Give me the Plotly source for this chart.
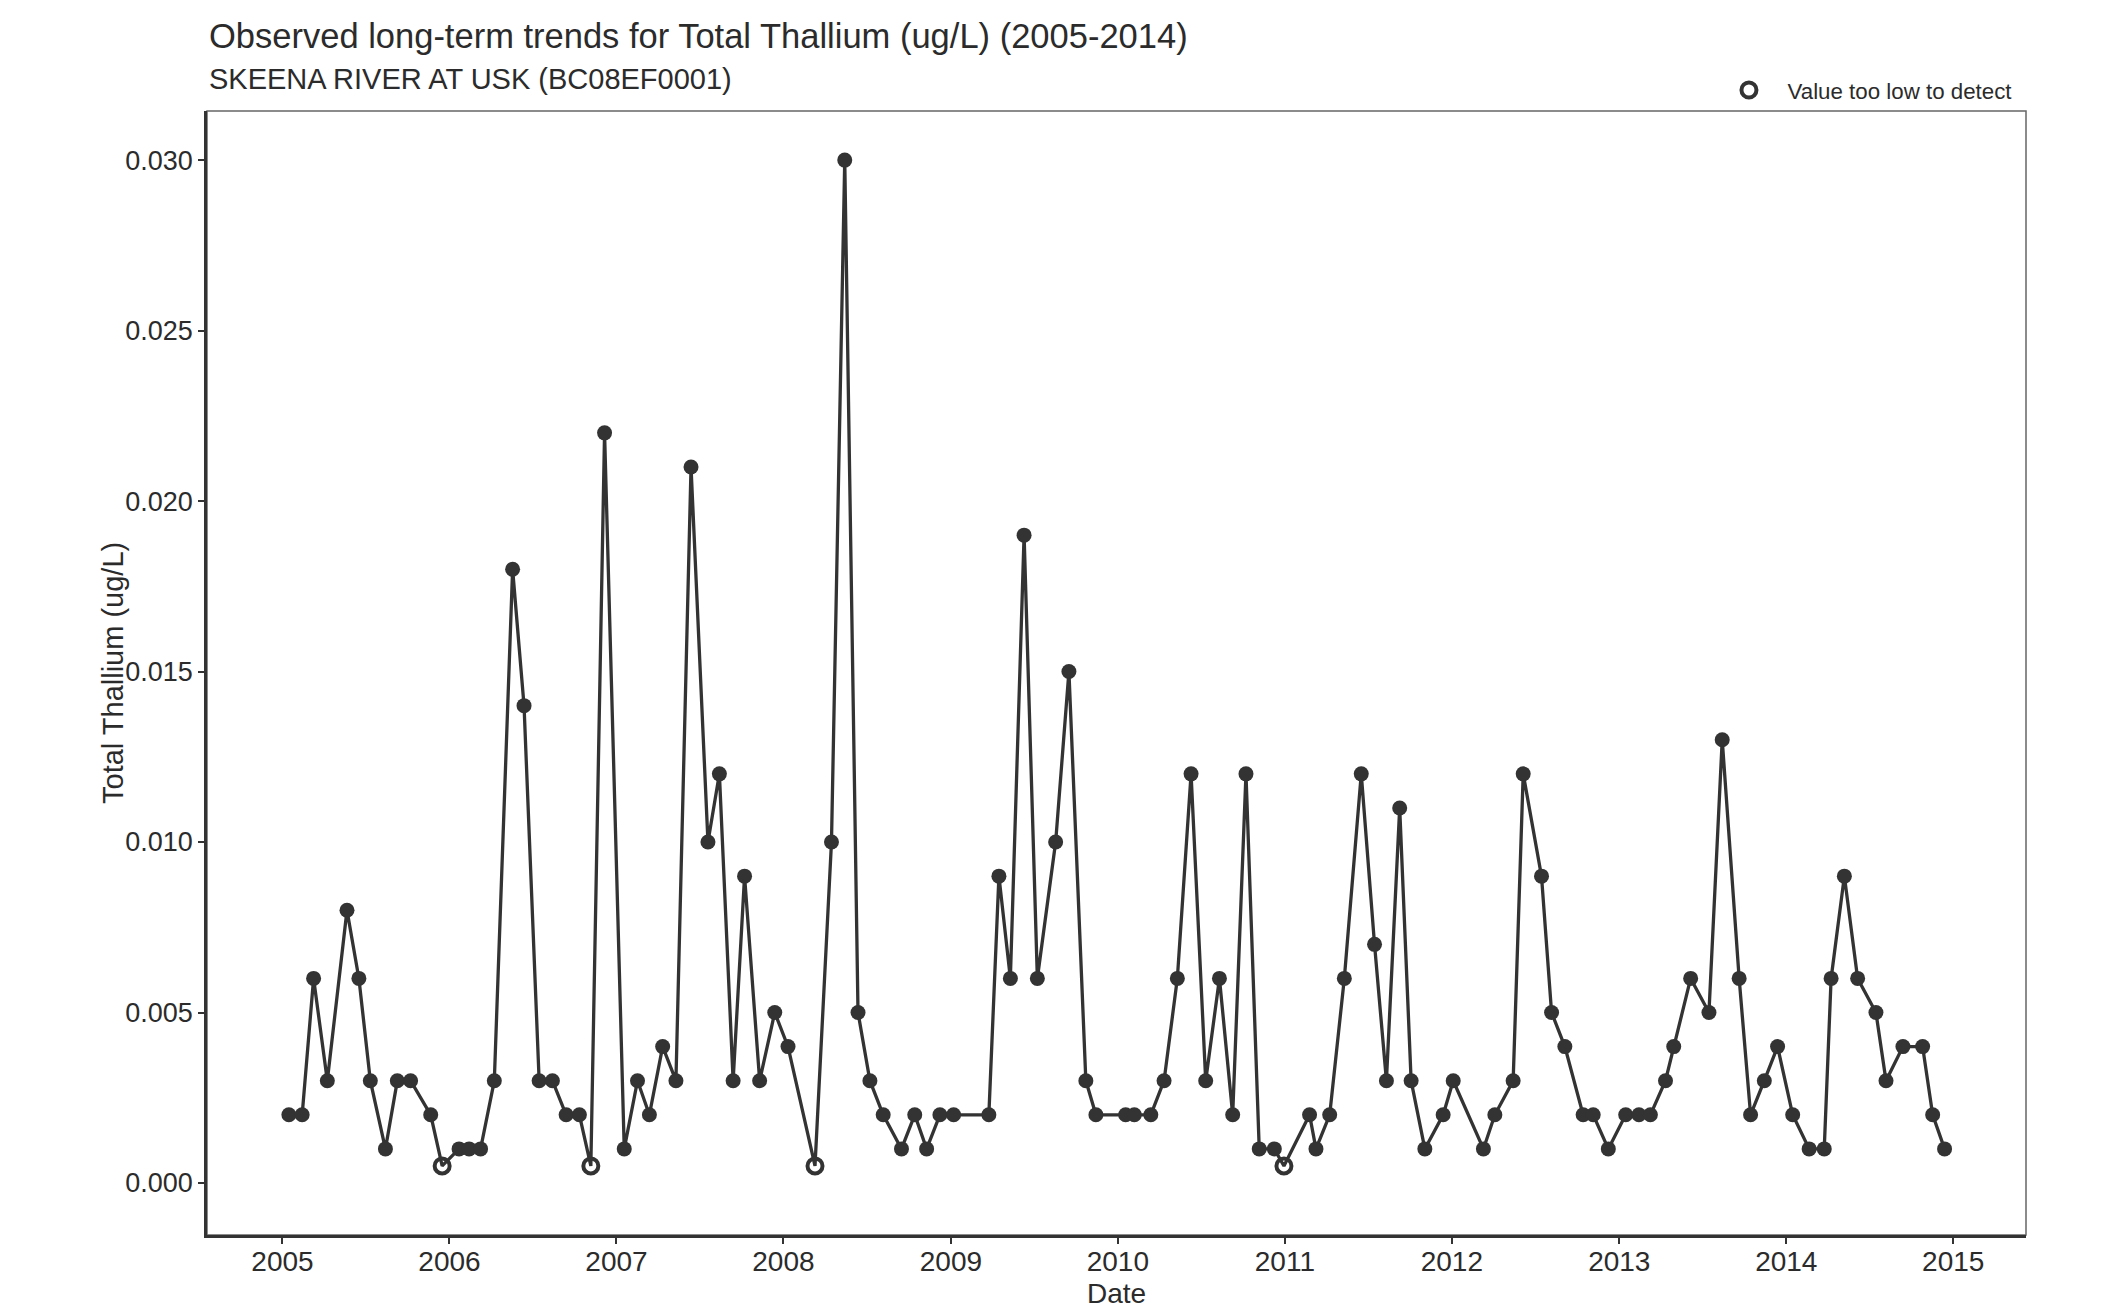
import plotly.graph_objects as go

dates = [
    "2005-01-15", "2005-02-13", "2005-03-10", "2005-04-09", "2005-05-22", "2005-06-17",
    "2005-07-12", "2005-08-14", "2005-09-09", "2005-10-08", "2005-11-21", "2005-12-16",
    "2006-01-22", "2006-02-13", "2006-03-10", "2006-04-09", "2006-05-19", "2006-06-13",
    "2006-07-16", "2006-08-14", "2006-09-13", "2006-10-12", "2006-11-06", "2006-12-06",
    "2007-01-18", "2007-02-16", "2007-03-14", "2007-04-12", "2007-05-11", "2007-06-13",
    "2007-07-20", "2007-08-14", "2007-09-13", "2007-10-08", "2007-11-10", "2007-12-13",
    "2008-01-11", "2008-03-10", "2008-04-15", "2008-05-14", "2008-06-12", "2008-07-08",
    "2008-08-06", "2008-09-15", "2008-10-14", "2008-11-09", "2008-12-08",
    "2009-01-07", "2009-03-25", "2009-04-16", "2009-05-11", "2009-06-10", "2009-07-09",
    "2009-08-18", "2009-09-16", "2009-10-23", "2009-11-14",
    "2010-01-18", "2010-02-06", "2010-03-14", "2010-04-12", "2010-05-11", "2010-06-10",
    "2010-07-12", "2010-08-11", "2010-09-09", "2010-10-08", "2010-11-06", "2010-12-09",
    "2010-12-30", "2011-02-24", "2011-03-10", "2011-04-09", "2011-05-11", "2011-06-17",
    "2011-07-16", "2011-08-11", "2011-09-09", "2011-10-04", "2011-11-03", "2011-12-13",
    "2012-01-04", "2012-03-10", "2012-04-04", "2012-05-14", "2012-06-05", "2012-07-15",
    "2012-08-06", "2012-09-04", "2012-10-14", "2012-11-05", "2012-12-08",
    "2013-01-15", "2013-02-13", "2013-03-10", "2013-04-12", "2013-04-30", "2013-06-06",
    "2013-07-16", "2013-08-14", "2013-09-20", "2013-10-15", "2013-11-14", "2013-12-13",
    "2014-01-15", "2014-02-20", "2014-03-25", "2014-04-09", "2014-05-08", "2014-06-06",
    "2014-07-16", "2014-08-07", "2014-09-13", "2014-10-26", "2014-11-17", "2014-12-13",
]

values = [
    0.002, 0.002, 0.006, 0.003, 0.008, 0.006,
    0.003, 0.001, 0.003, 0.003, 0.002, 0.0005,
    0.001, 0.001, 0.001, 0.003, 0.018, 0.014,
    0.003, 0.003, 0.002, 0.002, 0.0005, 0.022,
    0.001, 0.003, 0.002, 0.004, 0.003, 0.021,
    0.010, 0.012, 0.003, 0.009, 0.003, 0.005,
    0.004, 0.0005, 0.010, 0.030, 0.005, 0.003,
    0.002, 0.001, 0.002, 0.001, 0.002,
    0.002, 0.002, 0.009, 0.006, 0.019, 0.006,
    0.010, 0.015, 0.003, 0.002,
    0.002, 0.002, 0.002, 0.003, 0.006, 0.012,
    0.003, 0.006, 0.002, 0.012, 0.001, 0.001,
    0.0005, 0.002, 0.001, 0.002, 0.006, 0.012,
    0.007, 0.003, 0.011, 0.003, 0.001, 0.002,
    0.003, 0.001, 0.002, 0.003, 0.012, 0.009,
    0.005, 0.004, 0.002, 0.002, 0.001,
    0.002, 0.002, 0.002, 0.003, 0.004, 0.006,
    0.005, 0.013, 0.006, 0.002, 0.003, 0.004,
    0.002, 0.001, 0.001, 0.006, 0.009, 0.006,
    0.005, 0.003, 0.004, 0.004, 0.002, 0.001,
]

# indices of samples flagged as below detection limit
nondetect_idx = [11, 22, 37, 69]

y_ticks = [0.000, 0.005, 0.010, 0.015, 0.020, 0.025, 0.030]
y_tick_labels = ["0.000", "0.005", "0.010", "0.015", "0.020", "0.025", "0.030"]
x_ticks = ["2005-01-01", "2006-01-01", "2007-01-01", "2008-01-01", "2009-01-01", "2010-01-01",
           "2011-01-01", "2012-01-01", "2013-01-01", "2014-01-01", "2015-01-01"]
x_tick_labels = ["2005", "2006", "2007", "2008", "2009", "2010", "2011", "2012", "2013", "2014", "2015"]

title = "Observed long-term trends for Total Thallium (ug/L) (2005-2014)"
subtitle = "SKEENA RIVER AT USK (BC08EF0001)"
legend_label = "Value too low to detect"
x_title = "Date"
y_title = "Total Thallium (ug/L)"

C = "#333333"
TXT = "#2b2b2b"
FONT = "Liberation Sans, Arial, sans-serif"

det_x = [d for i, d in enumerate(dates) if i not in nondetect_idx]
det_y = [v for i, v in enumerate(values) if i not in nondetect_idx]
nd_x = [dates[i] for i in nondetect_idx]
nd_y = [values[i] for i in nondetect_idx]

fig = go.Figure()
fig.add_trace(go.Scatter(x=dates, y=values, mode="lines",
                         line=dict(color=C, width=3.3), showlegend=False, hoverinfo="skip"))
fig.add_trace(go.Scatter(x=det_x, y=det_y, mode="markers",
                         marker=dict(color=C, size=15, symbol="circle", line=dict(width=0)),
                         showlegend=False))
fig.add_trace(go.Scatter(x=nd_x, y=nd_y, mode="markers",
                         name="\u00a0\u00a0\u00a0" + legend_label,
                         marker=dict(color=C, size=15, symbol="circle-open", line=dict(width=4)),
                         showlegend=True))

fig.update_layout(
    width=2112, height=1309,
    margin=dict(l=199, r=94, t=103, b=82),
    paper_bgcolor="white", plot_bgcolor="white",
    font=dict(family=FONT, color=TXT, size=24),
    showlegend=True,
    legend=dict(x=0.8367, xanchor="left", y=1.0, yanchor="bottom", orientation="h",
                font=dict(size=22.3, color=TXT), bgcolor="rgba(0,0,0,0)",
                itemsizing="trace", borderwidth=0),
    xaxis=dict(
        range=["2004-07-20", "2015-06-09"],
        tickvals=x_ticks, ticktext=x_tick_labels,
        showgrid=False, zeroline=False,
        showline=True, linecolor=C, linewidth=2.5,
        ticks="outside", ticklen=6, tickwidth=2, tickcolor=C,
        tickfont=dict(size=28, color=TXT),
        ticklabelstandoff=-6,
    ),
    yaxis=dict(
        range=[-0.001525, 0.03144],
        tickvals=y_ticks, ticktext=y_tick_labels,
        showgrid=False, zeroline=False,
        showline=True, linecolor=C, linewidth=2.5,
        ticks="outside", ticklen=6, tickwidth=2, tickcolor=C,
        tickfont=dict(size=27, color=TXT),
    ),
    shapes=[dict(type="rect", xref="paper", yref="paper", x0=0, x1=1, y0=0, y1=1,
                 line=dict(color="#666666", width=1.5), layer="below")],
)

fig.add_annotation(text=title, xref="paper", yref="paper", x=0, y=1.0,
                   xanchor="left", yanchor="middle", yshift=75, showarrow=False,
                   font=dict(size=34.5, color=TXT, family=FONT))
fig.add_annotation(text=subtitle, xref="paper", yref="paper", x=0, y=1.0,
                   xanchor="left", yanchor="middle", yshift=32, showarrow=False,
                   font=dict(size=29, color=TXT, family=FONT))
fig.add_annotation(text=x_title, xref="paper", yref="paper", x=0.5, y=0,
                   xanchor="center", yanchor="middle", yshift=-58, showarrow=False,
                   font=dict(size=28, color=TXT, family=FONT))
fig.add_annotation(text=y_title, xref="paper", yref="paper", x=0, y=0.5,
                   xanchor="center", yanchor="middle", xshift=-94, textangle=-90,
                   showarrow=False, font=dict(size=29, color=TXT, family=FONT))

fig.write_html("out.html")
